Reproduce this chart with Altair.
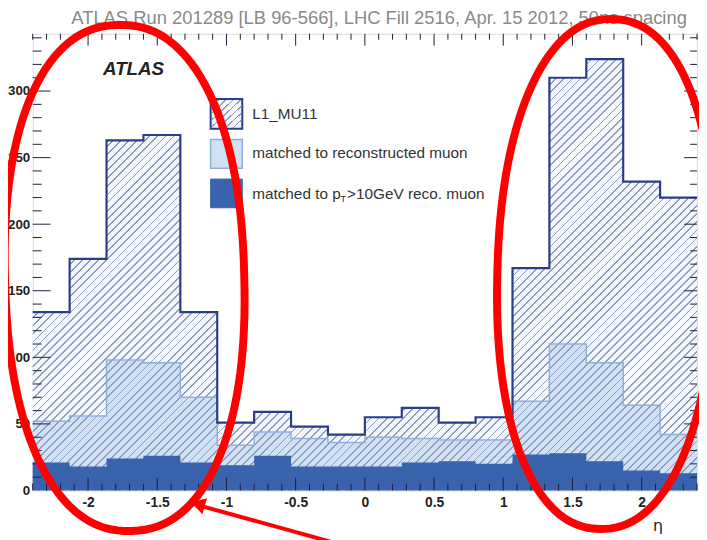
import math
import altair as alt
import pandas as pd

# ---------------- data ----------------
edges = [-2.4, -2.1333, -1.8667, -1.6, -1.3333, -1.0667, -0.8, -0.5333, -0.2667, 0.0,
         0.2667, 0.5333, 0.8, 1.0667, 1.3333, 1.6, 1.8667, 2.1333, 2.4]
l1_mu11 = [134, 174, 263, 267, 134, 51, 59, 48, 42, 55, 62, 51, 55, 167, 310, 324, 232, 220]
matched_reco = [52, 56, 98, 96, 70, 34, 44, 39, 36, 40, 39, 38, 38, 67, 110, 96, 64, 42]
matched_pt10 = [21, 18, 24, 26, 21, 19, 26, 18, 18, 18, 21, 22, 20, 27, 28, 22, 15, 13]
x_major = [-2, -1.5, -1, -0.5, 0, 0.5, 1, 1.5, 2]
y_major = [0, 50, 100, 150, 200, 250, 300]
legend_l1 = "L1_MU11"
legend_reco = "matched to reconstructed muon"
legend_pt_a = "matched to p"
legend_pt_sub = "T"
legend_pt_b = ">10GeV reco. muon"
atlas_label = "ATLAS"
title_text = "ATLAS Run 201289 [LB 96-566], LHC Fill 2516, Apr. 15 2012, 50ns spacing"
x_title = "η"

# ---------------- layout / style ----------------
W, H = 672, 462
YMAX = 343
FONT = "Liberation Sans"
NAVY = "#2a3d8a"
DARK = "#3a63ad"
LIGHT = "#d0e1f4"
LIGHT_EDGE = "#8db0da"
TINT = "#f4f7fc"
HATCH = "#8d9bc0"
RED = "#ff0000"
TICK = "#1d1d3a"

x_minor = [round(i * 0.1, 1) for i in range(-24, 25) if i % 5 != 0]
y_minor = [v for v in range(10, 341, 10) if v % 50 != 0]

xs = alt.Scale(domain=[-2.4, 2.4], nice=False, zero=False)
ys = alt.Scale(domain=[0, YMAX], nice=False, zero=False)

x_axis = alt.Axis(values=x_major, labelExpr="'' + datum.value", ticks=False, domain=False,
                  grid=False, labelFont=FONT, labelFontSize=14, labelFontWeight="bold",
                  labelColor="#222", labelPadding=5, title=x_title, titleFont="DejaVu Sans",
                  titleFontSize=16, titleFontWeight="normal", titleColor="#222",
                  titleX=632, titleY=27)
y_axis = alt.Axis(values=y_major, ticks=False, domain=False, grid=False, labelFont=FONT,
                  labelFontSize=13.5, labelFontWeight="bold", labelColor="#222",
                  labelPadding=3, title="")

X = alt.X("eta:Q", scale=xs, axis=x_axis)
Y = alt.Y("n:Q", scale=ys, axis=y_axis)


def step_df(vals):
    return pd.DataFrame({"eta": edges, "n": list(vals) + [vals[-1]]})


def hatch_gradient(n, frac, x2, y2, bg="rgba(255,255,255,0)"):
    stops = []
    for k in range(n):
        a = k / n
        b = (k + 1 - frac) / n
        c = (k + 1) / n
        stops += [alt.GradientStop(color=bg, offset=a),
                  alt.GradientStop(color=bg, offset=b),
                  alt.GradientStop(color=HATCH, offset=b),
                  alt.GradientStop(color=HATCH, offset=min(c, 1.0))]
    return alt.LinearGradient(gradient="linear", stops=stops, x1=0, y1=0, x2=x2, y2=y2)


# bounding box of hatched area (pixels) -> gradient vector giving 45 deg stripes
bw = W
bh = max(l1_mu11) / YMAX * H
r = bh / bw
s = (1 + r) / (1 + r * r)
span = (bw + bh) / math.sqrt(2)
n_stripes = int(span / 5.8)

l1_fill = alt.Chart(step_df(l1_mu11)).mark_area(
    interpolate="step-after", color=TINT).encode(x=X, y=Y)
reco_fill = alt.Chart(step_df(matched_reco)).mark_area(
    interpolate="step-after", color=LIGHT).encode(x=X, y=Y)
hatch = alt.Chart(step_df(l1_mu11)).mark_area(
    interpolate="step-after", fill=hatch_gradient(n_stripes, 0.22, s, s * r)).encode(x=X, y=Y)
pt_fill = alt.Chart(step_df(matched_pt10)).mark_area(
    interpolate="step-after", color=DARK).encode(x=X, y=Y)
reco_line = alt.Chart(step_df(matched_reco)).mark_line(
    interpolate="step-after", color=LIGHT_EDGE, strokeWidth=1.5).encode(x=X, y=Y)
l1_line = alt.Chart(step_df(l1_mu11)).mark_line(
    interpolate="step-after", color=NAVY, strokeWidth=2.2).encode(x=X, y=Y)


def xticks(vals, top, length):
    return alt.Chart(pd.DataFrame({"eta": vals})).mark_rule(color=TICK, strokeWidth=1).encode(
        x=X, y=alt.value(0 if top else H), y2=alt.value(length if top else H - length))


def yticks(vals, right, length):
    return alt.Chart(pd.DataFrame({"n": vals})).mark_rule(color=TICK, strokeWidth=1).encode(
        y=Y, x=alt.value(W if right else 0), x2=alt.value(W - length if right else length))


ticks = [xticks(x_major, False, 13), xticks(x_minor, False, 7),
         xticks(x_major, True, 12), xticks(x_minor, True, 6),
         yticks([v for v in y_major if v > 0], False, 18), yticks(y_minor, False, 9),
         yticks([v for v in y_major if v > 0], True, 13), yticks(y_minor, True, 7)]

one = pd.DataFrame({"k": [0]})

title = alt.Chart(one).mark_text(text=title_text, font=FONT, fontSize=18.6, color="#8a8a8a",
                                 align="left", baseline="alphabetic").encode(
    x=alt.value(39), y=alt.value(-10))

atlas = alt.Chart(one).mark_text(text=atlas_label, font=FONT, fontSize=19, fontWeight="bold",
                                 fontStyle="italic", color="#222", align="center",
                                 baseline="middle").encode(x=alt.value(102), y=alt.value(36))

# legend
LX0, LX1 = 180, 212
leg_box_l1 = alt.Chart(one).mark_rect(fill=TINT, stroke=NAVY, strokeWidth=2).encode(
    x=alt.value(LX0), x2=alt.value(LX1), y=alt.value(66), y2=alt.value(96))
leg_box_l1h = alt.Chart(one).mark_rect(fill=hatch_gradient(8, 0.22, 1.0, 1.0)).encode(
    x=alt.value(LX0 + 1), x2=alt.value(LX1 - 1), y=alt.value(67), y2=alt.value(95))
leg_box_reco = alt.Chart(one).mark_rect(fill=LIGHT, stroke=LIGHT_EDGE, strokeWidth=1.5).encode(
    x=alt.value(LX0), x2=alt.value(LX1), y=alt.value(107), y2=alt.value(136))
leg_box_pt = alt.Chart(one).mark_rect(fill=DARK, stroke=DARK, strokeWidth=1).encode(
    x=alt.value(LX0), x2=alt.value(LX1), y=alt.value(147), y2=alt.value(176))

LFS = 15.5


def ltext(txt, x, y, size=LFS):
    return alt.Chart(one).mark_text(text=txt, font=FONT, fontSize=size, color="#333",
                                    align="left", baseline="middle").encode(
        x=alt.value(x), y=alt.value(y))


leg_texts = [ltext(legend_l1, 222, 81), ltext(legend_reco, 222, 121),
             ltext(legend_pt_a, 222, 162), ltext(legend_pt_sub, 311, 167, 10),
             ltext(legend_pt_b, 318, 162)]


# red annotation ellipses
def blob_path(rx, ry, expo, tilt_deg, pts=144):
    sc = max(rx, ry)
    th = math.radians(tilt_deg)
    out = []
    for i in range(pts):
        t = 2 * math.pi * i / pts
        c, sn = math.cos(t), math.sin(t)
        x = rx * math.copysign(abs(c) ** (2 / expo), c)
        y = ry * math.copysign(abs(sn) ** (2 / expo), sn)
        xr = x * math.cos(th) - y * math.sin(th)
        yr = x * math.sin(th) + y * math.cos(th)
        out.append(f"{xr / sc:.4f} {yr / sc:.4f}")
    return "M" + " L".join(out) + " Z", (2 * sc) ** 2


def ellipse(cx, cy, rx, ry, expo, tilt):
    path, size = blob_path(rx, ry, expo, tilt)
    return alt.Chart(one).mark_point(shape=path, size=size, filled=False, color=RED,
                                     strokeWidth=8, opacity=1).encode(
        x=alt.value(cx), y=alt.value(cy))


ell_left = ellipse(93, 247, 121, 256, 2.25, -1.5)
ell_right = ellipse(580, 243, 110, 258, 2.2, 1.5)

arrow_line = alt.Chart(one).mark_rule(color=RED, strokeWidth=4).encode(
    x=alt.value(302), y=alt.value(514), x2=alt.value(168), y2=alt.value(477))
arrow_head = alt.Chart(one).mark_point(shape="triangle-up", filled=True, size=280,
                                       angle=285.7, color=RED, opacity=1).encode(
    x=alt.value(167), y=alt.value(476))

chart = alt.layer(
    l1_fill, reco_fill, hatch, pt_fill, reco_line, l1_line, *ticks, title, atlas,
    leg_box_l1, leg_box_l1h, leg_box_reco, leg_box_pt, *leg_texts,
    ell_left, ell_right, arrow_line, arrow_head
).properties(
    width=W, height=H,
    autosize=alt.AutoSizeParams(type="none"),
    padding={"left": 25, "top": 23, "right": 2, "bottom": 47},
).configure_view(stroke="#555", strokeWidth=1.2).configure(background="white")

chart.save("out.html", embed_options={"renderer": "svg", "actions": False})
